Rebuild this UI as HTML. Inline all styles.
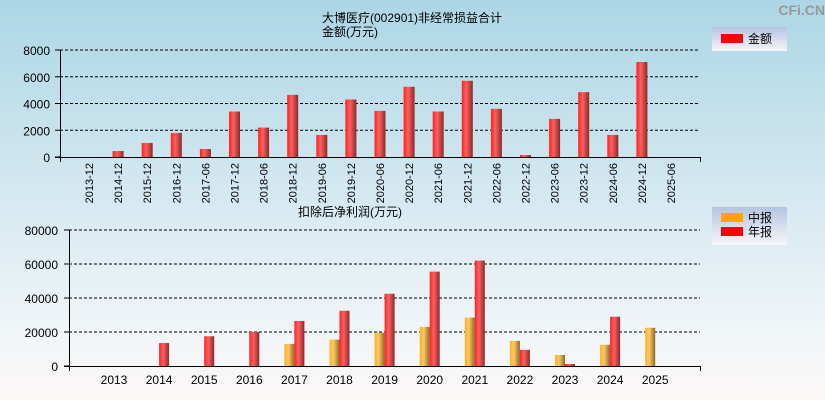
<!DOCTYPE html>
<html><head><meta charset="utf-8"><style>
html,body{margin:0;padding:0;width:825px;height:400px;overflow:hidden}
body{background:linear-gradient(#acd6e6 0%,#d6e9f1 50%,#f2f6f8 85%,#fdf8f8 100%);font-family:"Liberation Sans","Noto Sans CJK SC",sans-serif}
svg{position:absolute;left:0;top:0}
</style></head><body>
<svg id="c" width="825" height="400">
<defs>
<linearGradient id="gr" x1="0" x2="1"><stop offset="0" stop-color="#ff2020"/><stop offset="0.4" stop-color="#ff6060"/><stop offset="1" stop-color="#8a2a2a"/></linearGradient>
<linearGradient id="go" x1="0" x2="1"><stop offset="0" stop-color="#ffb020"/><stop offset="0.4" stop-color="#ffc860"/><stop offset="1" stop-color="#8a6a30"/></linearGradient>
<linearGradient id="lg" x1="0" y1="0" x2="0" y2="1"><stop offset="0" stop-color="#b4c4e0"/><stop offset="1" stop-color="#f6f6fa"/></linearGradient>
</defs>
<text x="825" y="15" text-anchor="end" font-size="14" font-weight="bold" fill="#999">CFi.CN</text>
<text x="322" y="22" font-size="12">大博医疗(002901)非经常损益合计</text>
<text x="322" y="36" font-size="12">金额(万元)</text>
<g><rect x="712" y="27" width="75" height="24" fill="url(#lg)"/><rect x="721" y="34" width="22" height="9" fill="#f00"/><text x="748" y="43" font-size="12">金额</text></g>
<text x="298" y="216" font-size="12">扣除后净利润(万元)</text>
<g><rect x="712" y="207" width="75" height="38" fill="url(#lg)"/><rect x="721" y="213" width="22" height="9" fill="#ffa500"/><text x="748" y="222" font-size="12">中报</text><rect x="721" y="227" width="22" height="9" fill="#f00"/><text x="748" y="236" font-size="12">年报</text></g>
</svg>
<script>
const topCats=["2013-12","2014-12","2015-12","2016-12","2017-06","2017-12","2018-06","2018-12","2019-06","2019-12","2020-06","2020-12","2021-06","2021-12","2022-06","2022-12","2023-06","2023-12","2024-06","2024-12","2025-06"];
const topVals=[0,450,1050,1800,600,3400,2200,4650,1650,4300,3450,5250,3400,5700,3600,150,2850,4850,1650,7100,0];
const topTicks=[0,2000,4000,6000,8000];
const botCats=["2013","2014","2015","2016","2017","2018","2019","2020","2021","2022","2023","2024","2025"];
const botHalf=[0,0,0,0,13000,15500,19500,23000,28500,14800,6500,12500,22500];
const botYear=[0,13500,17500,20000,26500,32500,42500,55500,62000,9500,1200,29000,0];
const botTicks=[0,20000,40000,60000,80000];
const svg=document.getElementById('c');const NS='http://www.w3.org/2000/svg';
function mk(t,a,p){const e=document.createElementNS(NS,t);for(const k in a)e.setAttribute(k,a[k]);(p||svg).appendChild(e);return e;}
// top chart
const tY=v=>157-v/8000*107;const tX=i=>89+i*29.1;
const g1=mk('g',{});
topTicks.forEach(t=>{if(t>0){const l=mk('line',{x1:60,x2:700,y1:tY(t),y2:tY(t),stroke:'#000','stroke-dasharray':'3,2','stroke-width':1},g1);}
const tx=mk('text',{x:50,y:tY(t)+5,'text-anchor':'end','font-size':12},g1);tx.textContent=t;});
topVals.forEach((v,i)=>{if(v<=0)return;const r=mk('rect',{x:tX(i)-5.5,y:tY(v),width:11,height:157-tY(v),fill:'url(#gr)'},g1);});
topCats.forEach((c,i)=>{const tx=mk('text',{x:0,y:0,'font-size':11,'text-anchor':'end',transform:`translate(${tX(i)+4},${163}) rotate(-90)`},g1);tx.textContent=c;});
mk('line',{x1:60.5,x2:60.5,y1:50,y2:162,stroke:'#000'},g1);mk('line',{x1:55,x2:701,y1:157.5,y2:157.5,stroke:'#000'},g1);mk('line',{x1:700.5,x2:700.5,y1:157,y2:162,stroke:'#000'},g1);
topTicks.forEach(t=>mk('line',{x1:55,x2:60,y1:tY(t),y2:tY(t),stroke:'#000'},g1));
// bottom chart
const bY=v=>366-v/80000*136;const bX=i=>114+i*45.1;
const g2=mk('g',{});
botTicks.forEach(t=>{if(t>0){const l=mk('line',{x1:69,x2:700,y1:bY(t),y2:bY(t),stroke:'#000','stroke-dasharray':'3,2'},g2);}
const tx=mk('text',{x:58,y:bY(t)+5,'text-anchor':'end','font-size':12},g2);tx.textContent=t;});
botCats.forEach((c,i)=>{const h=botHalf[i],a=botYear[i];
if(h>0){const r=mk('rect',{x:bX(i)-10,y:bY(h),width:10,height:366-bY(h),fill:'url(#go)'},g2);}
if(a>0){const r=mk('rect',{x:bX(i),y:bY(a),width:10,height:366-bY(a),fill:'url(#gr)'},g2);}
const tx=mk('text',{x:bX(i),y:384,'text-anchor':'middle','font-size':12},g2);tx.textContent=c;});
mk('line',{x1:69.5,x2:69.5,y1:230,y2:371,stroke:'#000'},g2);mk('line',{x1:64,x2:701,y1:366.5,y2:366.5,stroke:'#000'},g2);mk('line',{x1:700.5,x2:700.5,y1:366,y2:371,stroke:'#000'},g2);
botTicks.forEach(t=>mk('line',{x1:64,x2:69,y1:bY(t),y2:bY(t),stroke:'#000'},g2));
</script>
</body></html>
